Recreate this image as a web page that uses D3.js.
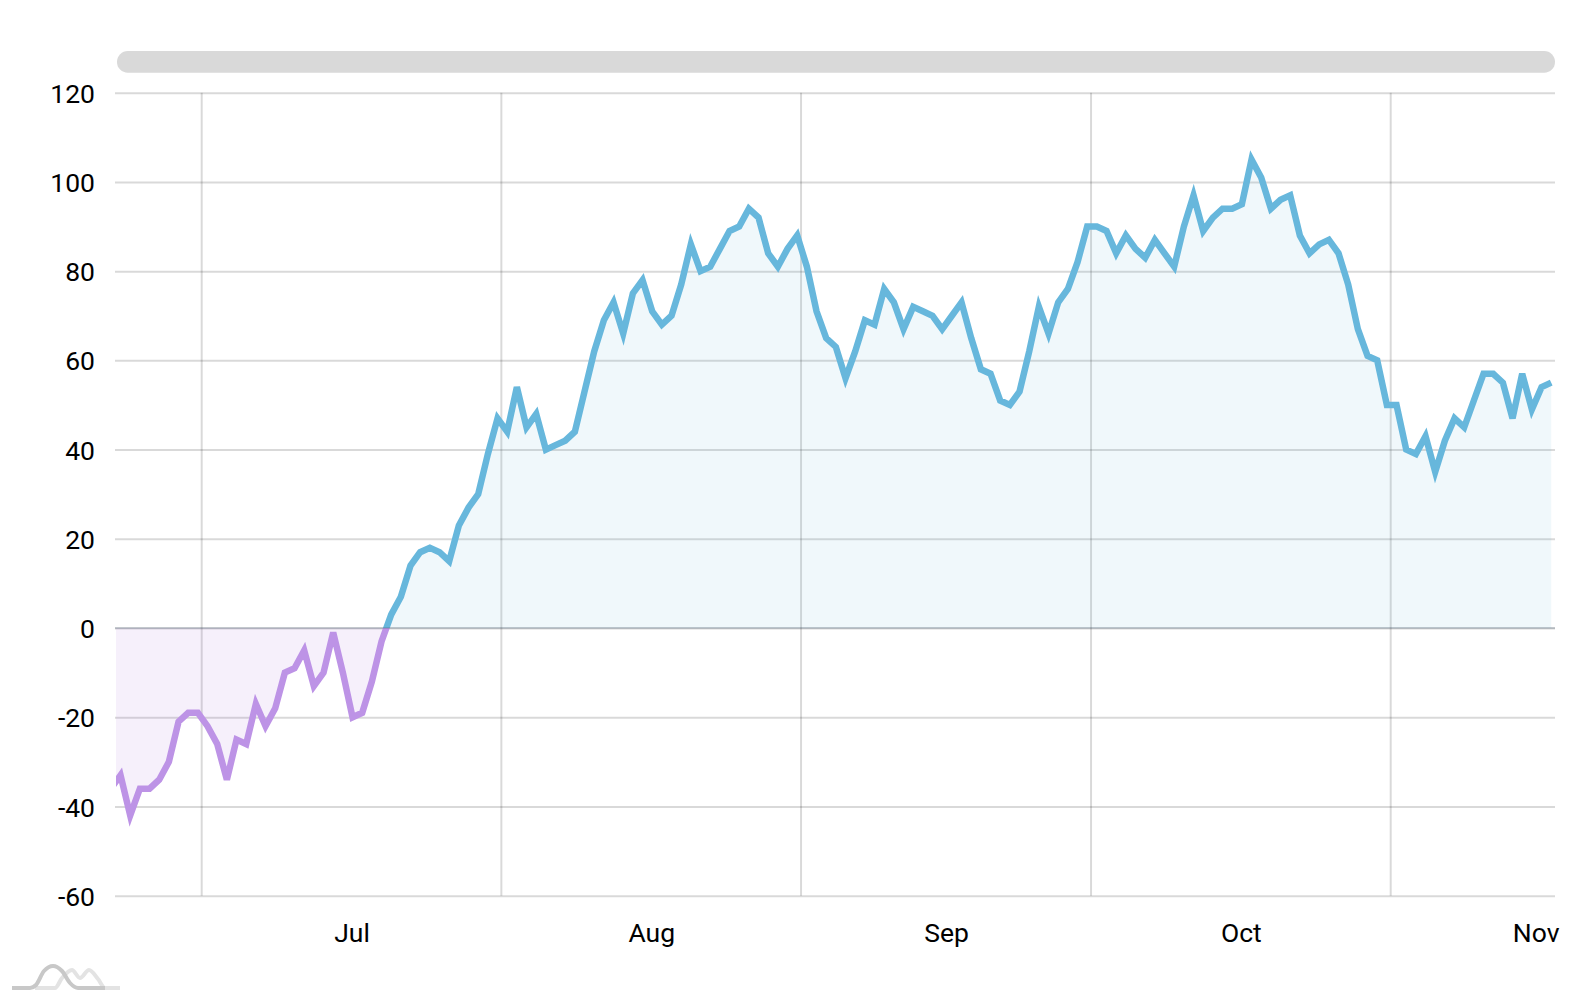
<!DOCTYPE html>
<html>
<head>
<meta charset="utf-8">
<script src="https://cdn.jsdelivr.net/npm/d3@7"></script>
<style>
  html, body { margin: 0; padding: 0; background: #fff; }
  text { font-family: Roboto, sans-serif; font-size: 26.5px; fill: #000; }
</style>
</head>
<body>
<svg id="my_viz"></svg>
<script>
// Daily values, first one is 21 Jun and gets clipped by the plot edge
var start_date = "2021-06-21";
var values = [-36, -33, -42, -36, -36, -34, -30, -21, -19, -19, -22, -26, -34, -25, -26, -17, -22, -18, -10, -9,
  -5, -13, -10, -1, -10, -20, -19, -12, -3, 3, 7, 14, 17, 18, 17, 15, 23, 27, 30, 39,
  47, 44, 54, 45, 48, 40, 41, 42, 44, 53, 62, 69, 73, 66, 75, 78, 71, 68, 70, 77,
  86, 80, 81, 85, 89, 90, 94, 92, 84, 81, 85, 88, 81, 71, 65, 63, 56, 62, 69, 68,
  76, 73, 67, 72, 71, 70, 67, 70, 73, 65, 58, 57, 51, 50, 53, 62, 72, 66, 73, 76,
  82, 90, 90, 89, 84, 88, 85, 83, 87, 84, 81, 90, 97, 89, 92, 94, 94, 95, 105, 101,
  94, 96, 97, 88, 84, 86, 87, 84, 77, 67, 61, 60, 50, 50, 40, 39, 43, 35, 42, 47,
  45, 51, 57, 57, 55, 47, 57, 49, 54, 55];
var y_ticks = [-60, -40, -20, 0, 20, 40, 60, 80, 100, 120];
var month_starts = ["2021-07-01", "2021-08-01", "2021-09-01", "2021-10-01", "2021-11-01"];
var month_names = ["Jul", "Aug", "Sep", "Oct", "Nov"];

var svg_width = 1586,
    svg_height = 1000,
    plot_left = 115,
    plot_right = 1555,
    plot_top = 92.7,
    plot_bottom = 895.7;

var parse = d3.utcParse("%Y-%m-%d");

// each point sits in the middle of its day
var data = values.map((v, i) => ({
    date: d3.utcHour.offset(d3.utcDay.offset(parse(start_date), i), 12),
    value: v
}));
var months = month_starts.map(parse);
// middle of each month, the labels go there
var month_mids = months.map(m => new Date((+m + +d3.utcMonth.offset(m, 1)) / 2));

var svg = d3.select("#my_viz")
    .attr("width", svg_width)
    .attr("height", svg_height)
    .style("display", "block");

var x = d3.scaleUtc()
    .domain([months[0], months[4]])
    .range([201.7, 1390.7]);

var y = d3.scaleLinear()
    .domain([-60, 120])
    .range([plot_bottom, plot_top]);

var defs = svg.append("defs");
defs.append("clipPath").attr("id", "above")
    .append("rect")
    .attr("x", plot_left + 1).attr("y", plot_top)
    .attr("width", plot_right - plot_left).attr("height", y(0) - plot_top);
defs.append("clipPath").attr("id", "below")
    .append("rect")
    .attr("x", plot_left + 1).attr("y", y(0))
    .attr("width", plot_right - plot_left).attr("height", plot_bottom - y(0));

// Scrollbar
svg.append("rect")
    .attr("x", 117)
    .attr("y", 51)
    .attr("width", plot_right - 117)
    .attr("height", 21.7)
    .attr("rx", 10.8)
    .attr("fill", "#d9d9d9");

// Y axis and horizontal grid
var y_axis = svg.append("g")
    .attr("transform", "translate(" + plot_left + ",0)")
    .call(d3.axisLeft(y)
        .tickValues(y_ticks)
        .tickSize(0)
        .tickPadding(20)
        .tickFormat(d => String(d)));
y_axis.select(".domain").remove();
y_axis.selectAll("text").attr("dy", "0.36em");

svg.append("g")
    .attr("transform", "translate(" + plot_left + ",0)")
    .call(d3.axisLeft(y).tickValues(y_ticks).tickSize(plot_left - plot_right).tickFormat(""))
    .call(g => g.select(".domain").remove())
    .selectAll("line")
    .attr("stroke", "#000")
    .attr("stroke-opacity", 0.15)
    .attr("stroke-width", 2);

// Vertical grid on the month starts
svg.append("g")
    .attr("transform", "translate(0," + plot_bottom + ")")
    .call(d3.axisBottom(x).tickValues(months).tickSize(plot_top - plot_bottom).tickFormat("").offset(0))
    .call(g => g.select(".domain").remove())
    .selectAll("line")
    .attr("stroke", "#000")
    .attr("stroke-opacity", 0.15)
    .attr("stroke-width", 2);

// Month labels
var x_labels = svg.append("g")
    .attr("transform", "translate(0," + plot_bottom + ")")
    .call(d3.axisBottom(x)
        .tickValues(month_mids)
        .tickSize(0)
        .tickPadding(27)
        .tickFormat((d, i) => month_names[i]));
x_labels.select(".domain").remove();

// Area and line, split in two colours at zero
var area = d3.area()
    .x(d => x(d.date) + 1)
    .y0(y(0))
    .y1(d => y(d.value));

var line = d3.line()
    .x(d => x(d.date) + 1)
    .y(d => y(d.value));

[["above", "#67b7dc", "#67b7dc"], ["below", "#bd93e6", "#a367dc"]].forEach(part => {
    var g = svg.append("g").attr("clip-path", "url(#" + part[0] + ")");
    g.append("path")
        .datum(data)
        .attr("d", area)
        .attr("fill", part[2])
        .attr("fill-opacity", 0.1);
    g.append("path")
        .datum(data)
        .attr("d", line)
        .attr("fill", "none")
        .attr("stroke", part[1])
        .attr("stroke-width", 6.5);
});

// Zero line on top
svg.append("line")
    .attr("x1", plot_left)
    .attr("x2", plot_right)
    .attr("y1", y(0))
    .attr("y2", y(0))
    .attr("stroke", "#465a6e")
    .attr("stroke-opacity", 0.25)
    .attr("stroke-width", 2);

// Little logo bottom left
var logo_line = d3.line().curve(d3.curveMonotoneX);
svg.append("path")
    .attr("d", logo_line([[35, 988], [55, 988], [62, 978], [72, 970], [80, 978], [89, 970], [98, 979], [105, 988], [120, 988]]))
    .attr("fill", "none")
    .attr("stroke", "#e3e3e3")
    .attr("stroke-width", 4);
svg.append("path")
    .attr("d", logo_line([[12, 988], [30, 988], [36, 985], [44, 971], [53, 966], [62, 971], [70, 983], [78, 988], [105, 988]]))
    .attr("fill", "none")
    .attr("stroke", "#c8c8c8")
    .attr("stroke-width", 4);
</script>
</body>
</html>
